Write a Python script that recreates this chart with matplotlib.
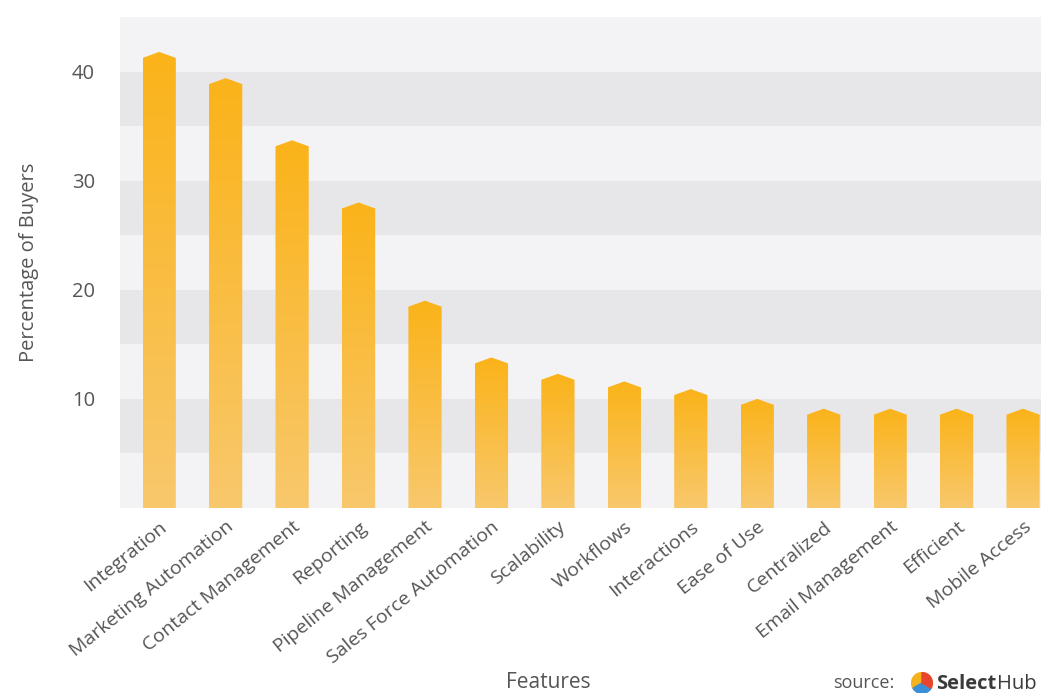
import numpy as np
import matplotlib
matplotlib.use("Agg")
import matplotlib.pyplot as plt
from matplotlib.patches import Polygon, Wedge
from matplotlib.colors import LinearSegmentedColormap

categories = ["Integration", "Marketing Automation", "Contact Management", "Reporting",
              "Pipeline Management", "Sales Force Automation", "Scalability", "Workflows",
              "Interactions", "Ease of Use", "Centralized", "Email Management",
              "Efficient", "Mobile Access"]
values = [41.8, 39.4, 33.7, 28.0, 19.0, 13.8, 12.3, 11.6, 10.9, 10.0, 9.1, 9.1, 9.1, 9.1]
yticks = [10, 20, 30, 40]

plt.rcParams['font.family'] = ['Open Sans', 'DejaVu Sans']
txt = '#555555'

fig = plt.figure(figsize=(10.41, 6.93), dpi=100)
ax = fig.add_axes([120/1041, 1-508/693, (1041-120)/1041, (508-17)/693])
ax.set_facecolor('#f3f3f5')
for lo in range(5, 45, 10):
    ax.axhspan(lo, lo + 5, color='#e7e7e9', lw=0, zorder=0)

cmap = LinearSegmentedColormap.from_list('g', ['#f8c86c', '#fbb319'])
grad = np.linspace(0, 1, 256).reshape(-1, 1)
w = 0.25
cap = 0.55
for i, v in enumerate(values):
    sh = v - cap
    poly = Polygon([(i - w, 0), (i - w, sh), (i, v), (i + w, sh), (i + w, 0)],
                   closed=True, facecolor='none', edgecolor='none')
    ax.add_patch(poly)
    im = ax.imshow(grad, cmap=cmap, extent=(i - w, i + w, 0, v), origin='lower',
                   aspect='auto', zorder=2, interpolation='bilinear')
    im.set_clip_path(poly)
ax.set_xlim(-0.59, 13.27)
ax.set_ylim(0, 45)

for s in ax.spines.values():
    s.set_visible(False)
ax.set_yticks(yticks)
ax.set_yticklabels([str(t) for t in yticks], fontsize=14.5, color=txt)
ax.tick_params(axis='both', length=0)
ax.tick_params(axis='y', pad=18)
ax.set_xticks(range(len(categories)))
ax.set_xticklabels(categories, rotation=39, ha='right', rotation_mode='anchor',
                   fontsize=14, color=txt)
ax.tick_params(axis='x', pad=7)
ax.set_ylabel('Percentage of Buyers', fontsize=14.5, color=txt, labelpad=24)

fig.text(548/1041, 1-683/693, 'Features', fontsize=15, color=txt, ha='center', va='center')
fig.text(894/1041, 1-683/693, 'source:', fontsize=13, color=txt, ha='right', va='center')
sel = fig.text(936/1041, 1-689/693, 'Select', fontsize=14.5, color='#3a3a3a',
               fontweight='bold', ha='left', va='baseline')
ax.annotate('Hub', xy=(1, 0), xycoords=sel, xytext=(0.5, 0), textcoords='offset points',
            fontsize=14.5, color='#3a3a3a', ha='left', va='bottom', annotation_clip=False)

lax = fig.add_axes([911/1041, 1-694/693, 22/1041, 22/693])
lax.set_xlim(-1, 1); lax.set_ylim(-1, 1); lax.set_aspect('equal'); lax.axis('off')
lax.add_patch(Wedge((0, 0), 0.95, 90, 210, color='#f6b21c'))
lax.add_patch(Wedge((0, 0), 0.95, 210, 330, color='#3b8fd9'))
lax.add_patch(Wedge((0, 0), 0.95, -30, 90, color='#e8462c'))

fig.savefig('out.png', dpi=100)
